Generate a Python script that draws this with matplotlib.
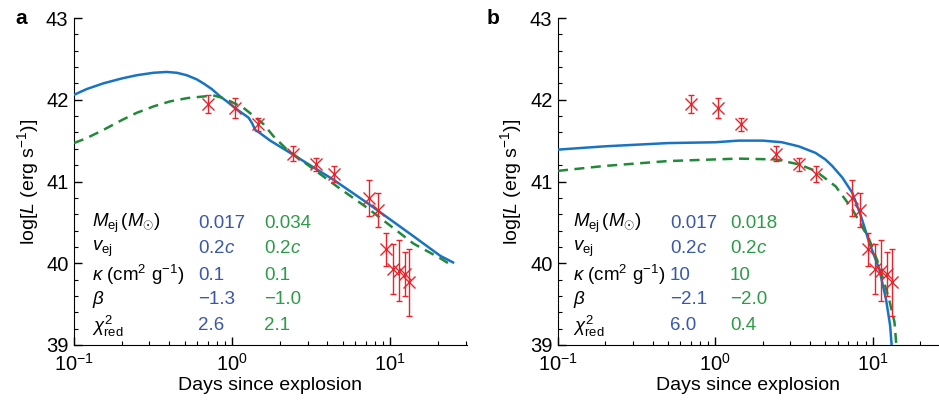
import numpy as np
import matplotlib
matplotlib.use("Agg")
import matplotlib.pyplot as plt
from matplotlib.ticker import MultipleLocator, LogLocator, NullFormatter

plt.rcParams['font.family'] = ['Liberation Sans', 'DejaVu Sans']
plt.rcParams['mathtext.fontset'] = 'custom'
plt.rcParams['mathtext.rm'] = 'Liberation Sans'
plt.rcParams['mathtext.it'] = 'Liberation Sans:italic'
plt.rcParams['mathtext.bf'] = 'Liberation Sans:bold'

# observed points (same in both panels)
days = [0.70, 1.04, 1.45, 2.42, 3.39, 4.38, 7.36, 8.36, 9.39, 10.34, 11.3, 12.3, 13.2]
logL = [41.95, 41.90, 41.70, 41.34, 41.21, 41.09, 40.80, 40.65, 40.17, 39.93, 39.91, 39.87, 39.77]
logL_err = [0.11, 0.12, 0.08, 0.09, 0.08, 0.10, 0.22, 0.21, 0.20, 0.31, 0.37, 0.27, 0.41]

# panel a models
a_blue_t = [0.1, 0.12, 0.153, 0.2, 0.249, 0.318, 0.386, 0.447, 0.516, 0.596, 0.658, 0.744,
            0.84, 0.925, 1.04, 1.27, 1.33, 1.40, 1.48, 1.74, 2.42, 4.38, 7.11, 14.0, 20.7, 24.9]
a_blue_L = [42.06, 42.13, 42.20, 42.26, 42.30, 42.33, 42.34, 42.33, 42.30, 42.25, 42.20, 42.13,
            42.04, 41.98, 41.90, 41.78, 41.72, 41.63, 41.60, 41.50, 41.33, 41.02, 40.74, 40.33,
            40.09, 40.01]
a_green_t = [0.1, 0.12, 0.153, 0.2, 0.249, 0.32, 0.405, 0.52, 0.658, 0.77, 0.88, 1.0, 1.18,
             1.35, 1.58, 1.83, 2.22, 3.27, 4.59, 7.11, 14.0, 20.7, 24.6]
a_green_L = [41.47, 41.53, 41.63, 41.75, 41.84, 41.92, 41.98, 42.02, 42.04, 42.05, 42.02, 41.97,
             41.90, 41.81, 41.70, 41.55, 41.39, 41.15, 40.94, 40.68, 40.24, 40.06, 39.97]

# panel b models
b_blue_t = [0.1, 0.197, 0.5, 1.0, 1.40, 2.0, 2.65, 3.39, 4.33, 5.0, 5.53, 6.4, 7.43, 8.41,
            9.51, 11.0, 12.15, 12.9, 13.25]
b_blue_L = [41.39, 41.43, 41.47, 41.48, 41.50, 41.50, 41.48, 41.43, 41.35, 41.27, 41.19, 41.05,
            40.86, 40.58, 40.25, 39.93, 39.56, 39.24, 38.95]
b_green_t = [0.1, 0.197, 0.5, 1.40, 2.41, 3.39, 4.33, 5.82, 7.43, 9.51, 11.0, 12.7, 13.75, 14.2]
b_green_L = [41.13, 41.19, 41.25, 41.28, 41.27, 41.21, 41.13, 40.94, 40.66, 40.29, 39.97,
             39.56, 39.28, 38.95]

param_labels = [r'$M_{\rm ej}\,(M_{\odot})$', r'$v_{\rm ej}$', r'$\kappa$ (cm$^2$ g$^{-1}$)',
                r'$\beta$', r'$\chi^2_{\rm red}$']
a_blue_vals = ['0.017', r'0.2$c$', '0.1', '\u22121.3', '2.6']
a_green_vals = ['0.034', r'0.2$c$', '0.1', '\u22121.0', '2.1']
b_blue_vals = ['0.017', r'0.2$c$', '10', '\u22122.1', '6.0']
b_green_vals = ['0.018', r'0.2$c$', '10', '\u22122.0', '0.4']

blue = '#1874c2'
green = '#23893a'
red = '#e8232b'
txt_blue = '#3a57a8'
txt_green = '#2c9a47'

W, H = 939, 401
fig = plt.figure(figsize=(W / 100, H / 100), dpi=100)
ax_a = fig.add_axes([74 / W, 1 - 345 / H, 393 / W, 327 / H])
ax_b = fig.add_axes([558 / W, 1 - 345 / H, 380 / W, 327 / H])

panels = [
    (ax_a, 'a', 30.5, a_blue_t, a_blue_L, a_green_t, a_green_L, a_blue_vals, a_green_vals,
     (92, 198, 264), 28, 15),
    (ax_b, 'b', 26.0, b_blue_t, b_blue_L, b_green_t, b_green_L, b_blue_vals, b_green_vals,
     (573, 670, 730), 511, 487),
]

for ax, letter, xmax, bt, bl, gt, gl, bv, gv, xs, ylab_x, let_x in panels:
    ax.plot(bt, bl, color=blue, lw=1.8, zorder=3, solid_joinstyle='round')
    ax.plot(gt, gl, color=green, lw=1.8, ls=(0, (4, 2.6)), zorder=3)
    ax.errorbar(days, logL, yerr=logL_err, fmt='x', color=red, ms=8.5, mew=1.0,
                elinewidth=1.0, capsize=2.5, capthick=1.0, zorder=4)
    ax.set_xscale('log')
    ax.set_xlim(0.1, xmax)
    ax.set_ylim(39, 43)
    ax.yaxis.set_major_locator(MultipleLocator(1))
    ax.yaxis.set_minor_locator(MultipleLocator(0.2))
    ax.xaxis.set_major_locator(LogLocator(base=10, numticks=10))
    ax.xaxis.set_minor_locator(LogLocator(base=10, subs=np.arange(2, 10), numticks=10))
    ax.xaxis.set_minor_formatter(NullFormatter())
    for s in ['top', 'right']:
        ax.spines[s].set_visible(False)
    ax.tick_params(which='major', direction='in', length=6, width=1.0, labelsize=14.5)
    ax.tick_params(axis='y', which='major', pad=4)
    ax.tick_params(axis='x', which='major', pad=6)
    ax.tick_params(which='minor', direction='in', length=3, width=0.8)
    ax.set_xlabel('Days since explosion', fontsize=14)
    ax.set_ylabel(r'log[$L$ (erg s$^{-1}$)]', fontsize=14)
    x0 = ax.get_position().x0 * W
    ax.yaxis.set_label_coords(-(x0 - ylab_x) / (ax.get_position().width * W), 0.5)
    ax.xaxis.set_label_coords(0.5, -(386 - 345) / 327)
    ax.xaxis.label.set_va('center')
    ax.yaxis.label.set_va('center')

    fig.text(let_x / W, 1 - 18 / H, letter, fontsize=15, fontweight='bold',
             va='center', ha='left')

    rows_y = [223, 249, 275, 300, 326]
    for lab, b, g, y in zip(param_labels, bv, gv, rows_y):
        fig.text(xs[0] / W, 1 - y / H, lab, fontsize=13.5, va='center', ha='left')
        fig.text(xs[1] / W, 1 - y / H, b, fontsize=13.5, va='center', ha='left', color=txt_blue)
        fig.text(xs[2] / W, 1 - y / H, g, fontsize=13.5, va='center', ha='left', color=txt_green)

fig.savefig('out.png', dpi=100)
